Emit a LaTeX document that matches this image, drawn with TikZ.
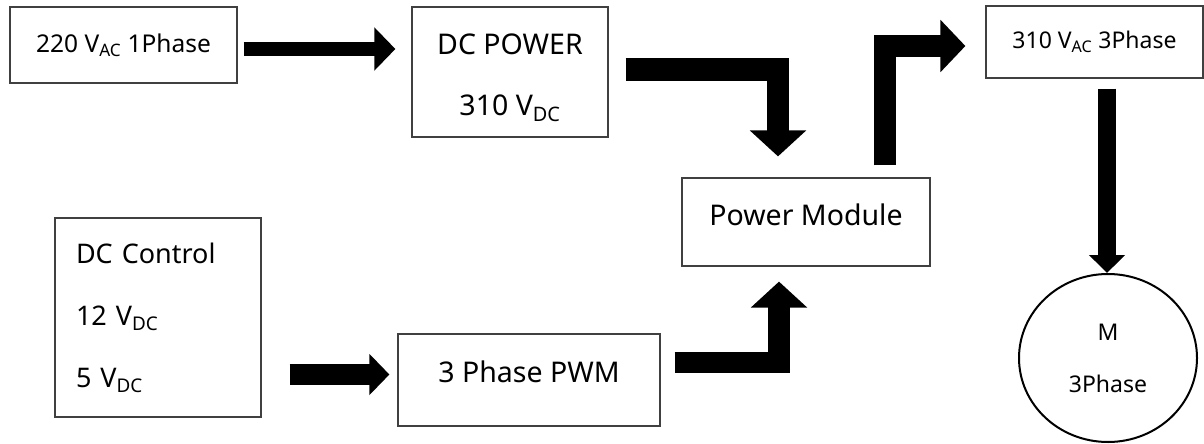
\documentclass[tikz,border=0pt]{standalone}
\usepackage{fontspec}
\setmainfont{Noto Sans}
\usetikzlibrary{arrows.meta,shapes.geometric}

\tikzset{
        block/.style={draw=black!75,line width=1.2pt,inner sep=0pt},
        blockarrow/.style n args={3}{line width=#1,line join=miter,-{Triangle[width=#2,length=#3]}}
}

\begin{document}
\begin{tikzpicture}[x=1pt,y=-1pt]
        \useasboundingbox(0,0)rectangle(1204,444);
        \node[block,minimum width=227pt,minimum height=76pt,font=\fontsize{24.5}{30}\selectfont](ac1)at(123.5,45){220 V\textsubscript{AC} 1Phase};
        \node[block,minimum width=196pt,minimum height=130pt,align=center,font=\fontsize{28.5}{61}\selectfont](dcpower)at(510,72){\rule{0pt}{32pt}DC POWER\\310 V\textsubscript{DC}};
        \node[block,minimum width=217pt,minimum height=72pt,font=\fontsize{23}{28}\selectfont](ac3)at(1094.5,42){310 V\textsubscript{AC} 3Phase};
        \node[block,minimum width=248pt,minimum height=88pt,text depth=14pt,font=\fontsize{28.5}{34}\selectfont](pm)at(806,222){Power Module};
        \node[block,inner xsep=21pt,text width=164pt,minimum height=199pt,align=left,font=\fontsize{27}{62}\selectfont](dcctrl)at(158,317.5){DC Control\\12 V\textsubscript{DC}\\5 V\textsubscript{DC}};
        \node[block,minimum width=262pt,minimum height=92pt,text depth=16pt,font=\fontsize{28.5}{34}\selectfont](pwm)at(529,380){3 Phase PWM};
        \node[ellipse,draw,line width=2pt,inner sep=0pt,minimum width=178pt,minimum height=168pt,align=center,font=\fontsize{23}{52}\selectfont](motor)at(1108,358){M\\3Phase};
        \draw[blockarrow={14pt}{42pt}{21pt}]([shift={(6,4)}]ac1.east)--([shift={(-16,-23)}]dcpower.west);
        \draw[blockarrow={22.5pt}{55pt}{26pt}]([shift={(17,-2.5)}]dcpower.east)-|([shift={(-28,-21)}]pm.north);
        \draw[blockarrow={22pt}{51pt}{25pt}]([shift={(79,-12)}]pm.north)|-([shift={(-20,4)}]ac3.west);
        \draw[blockarrow={18pt}{35pt}{18pt}]([shift={(12.5,10)}]ac3.south)--([xshift=-1pt]motor.north);
        \draw[blockarrow={21pt}{40pt}{20pt}]([shift={(28,57)}]dcctrl.east)--([shift={(-8,-5.5)}]pwm.west);
        \draw[blockarrow={21.5pt}{55pt}{26pt}]([shift={(14,-17.5)}]pwm.east)-|([shift={(-27,15)}]pm.south);
\end{tikzpicture}
\end{document}
